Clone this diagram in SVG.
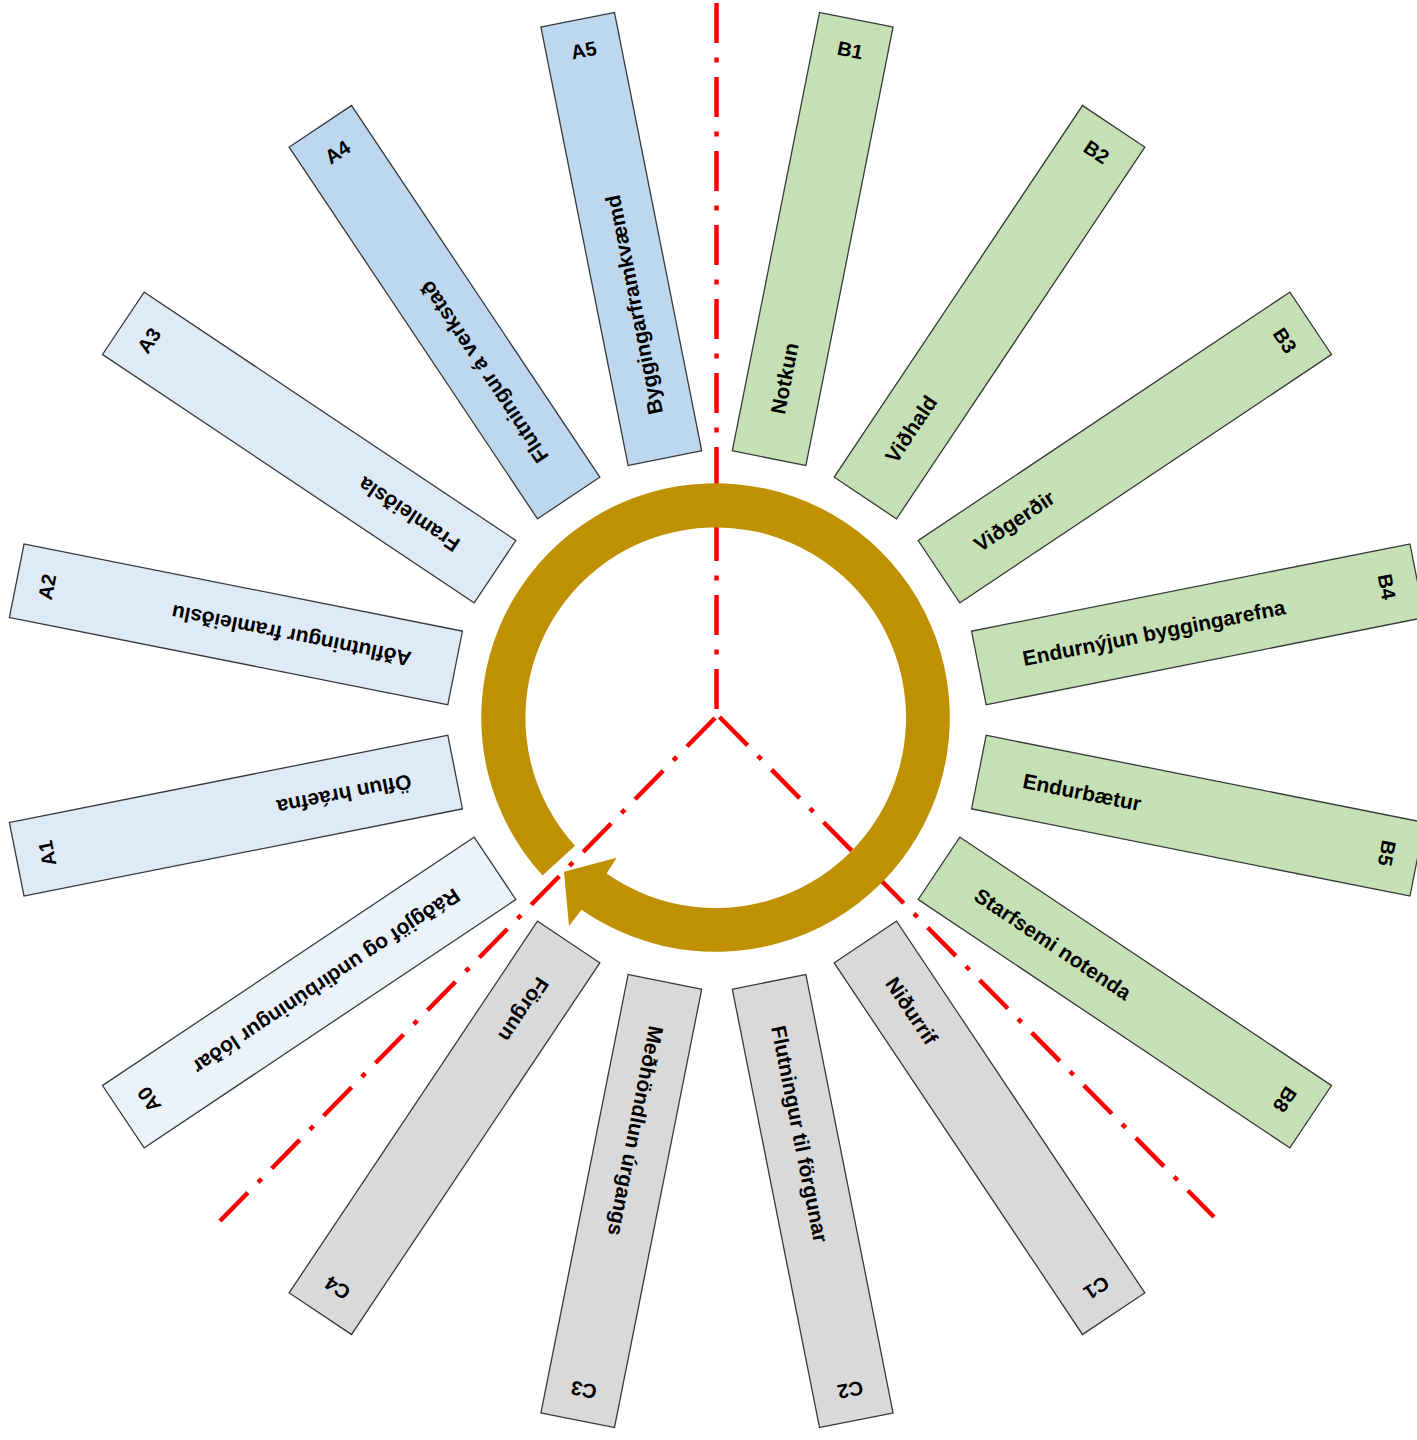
<svg xmlns="http://www.w3.org/2000/svg" width="1417" height="1440" viewBox="0 0 1417 1440">
<style>
.box{stroke:#3a3a3a;stroke-width:1.3}
.am{fill:#BDD7EE}.al{fill:#DEEBF7}.a0{fill:#EBF2FA}.b{fill:#C5E0B4}.c{fill:#D9D9D9}
text{font-family:"Liberation Sans",Arial,sans-serif;font-weight:bold;fill:#000;font-size:21px}
.id{text-anchor:middle;font-size:20px}
.axis{stroke:#FF0000;stroke-width:4.5;fill:none;stroke-dasharray:40 14.5 5 14.5}
</style>
<rect width="1417" height="1440" fill="#fff"/>
<g id="connectors">
<path class="axis" d="M716.5 709 L716.5 0"/>
<path class="axis" d="M715 718 L220 1221"/>
<path class="axis" d="M719.5 717 L1214 1217"/>
</g>
<g id="A0" transform="translate(717 720) rotate(-123.75)"><rect class="box a0" x="-37.5" y="-714" width="75" height="447"/><text class="id" x="0" y="-676">A0</text><text transform="rotate(-90)" x="312" y="7">Ráðgjöf og undirbúningur lóðar</text></g>
<g id="A1" transform="translate(717 720) rotate(-101.25)"><rect class="box al" x="-37.5" y="-714" width="75" height="447"/><text class="id" x="0" y="-676">A1</text><text transform="rotate(-90)" x="312" y="7">Öflun hráefna</text></g>
<g id="A2" transform="translate(717 720) rotate(-78.75)"><rect class="box al" x="-37.5" y="-714" width="75" height="447"/><text class="id" x="0" y="-676">A2</text><text transform="rotate(-90)" x="312" y="7">Aðflutningur framleiðslu</text></g>
<g id="A3" transform="translate(717 720) rotate(-56.25)"><rect class="box al" x="-37.5" y="-714" width="75" height="447"/><text class="id" x="0" y="-676">A3</text><text transform="rotate(-90)" x="312" y="7">Framleiðsla</text></g>
<g id="A4" transform="translate(717 720) rotate(-33.75)"><rect class="box am" x="-37.5" y="-714" width="75" height="447"/><text class="id" x="0" y="-676">A4</text><text transform="rotate(-90)" x="312" y="7">Flutningur á verkstað</text></g>
<g id="A5" transform="translate(717 720) rotate(-11.25)"><rect class="box am" x="-37.5" y="-714" width="75" height="447"/><text class="id" x="0" y="-676">A5</text><text transform="rotate(-90)" x="312" y="7">Byggingarframkvæmd</text></g>
<g id="B1" transform="translate(717 720) rotate(11.25)"><rect class="box b" x="-37.5" y="-714" width="75" height="447"/><text class="id" x="0" y="-676">B1</text><text transform="rotate(-90)" x="312" y="7">Notkun</text></g>
<g id="B2" transform="translate(717 720) rotate(33.75)"><rect class="box b" x="-37.5" y="-714" width="75" height="447"/><text class="id" x="0" y="-676">B2</text><text transform="rotate(-90)" x="312" y="7">Viðhald</text></g>
<g id="B3" transform="translate(717 720) rotate(56.25)"><rect class="box b" x="-37.5" y="-714" width="75" height="447"/><text class="id" x="0" y="-676">B3</text><text transform="rotate(-90)" x="312" y="7">Viðgerðir</text></g>
<g id="B4" transform="translate(717 720) rotate(78.75)"><rect class="box b" x="-37.5" y="-714" width="75" height="447"/><text class="id" x="0" y="-676">B4</text><text transform="rotate(-90)" x="312" y="7">Endurnýjun byggingarefna</text></g>
<g id="B5" transform="translate(717 720) rotate(101.25)"><rect class="box b" x="-37.5" y="-714" width="75" height="447"/><text class="id" x="0" y="-676">B5</text><text transform="rotate(-90)" x="312" y="7">Endurbætur</text></g>
<g id="B8" transform="translate(717 720) rotate(123.75)"><rect class="box b" x="-37.5" y="-714" width="75" height="447"/><text class="id" x="0" y="-676">B8</text><text transform="rotate(-90)" x="312" y="7">Starfsemi notenda</text></g>
<g id="C1" transform="translate(717 720) rotate(146.25)"><rect class="box c" x="-37.5" y="-714" width="75" height="447"/><text class="id" x="0" y="-676">C1</text><text transform="rotate(-90)" x="312" y="7">Niðurrif</text></g>
<g id="C2" transform="translate(717 720) rotate(168.75)"><rect class="box c" x="-37.5" y="-714" width="75" height="447"/><text class="id" x="0" y="-676">C2</text><text transform="rotate(-90)" x="312" y="7">Flutningur til förgunar</text></g>
<g id="C3" transform="translate(717 720) rotate(191.25)"><rect class="box c" x="-37.5" y="-714" width="75" height="447"/><text class="id" x="0" y="-676">C3</text><text transform="rotate(-90)" x="312" y="7">Meðhöndlun úrgangs</text></g>
<g id="C4" transform="translate(717 720) rotate(213.75)"><rect class="box c" x="-37.5" y="-714" width="75" height="447"/><text class="id" x="0" y="-676">C4</text><text transform="rotate(-90)" x="312" y="7">Förgun</text></g>
<g id="cycle">
<path fill="#BF9000" d="M575.0 845.8 L542.5 875.5 A234.3 234.3 0 1 1 581.5 909.7 L569 926 L564 871.7 L616.7 857.7 L606.6 873.6 A190.3 190.3 0 1 0 575.0 845.8 Z"/>
</g>
</svg>
